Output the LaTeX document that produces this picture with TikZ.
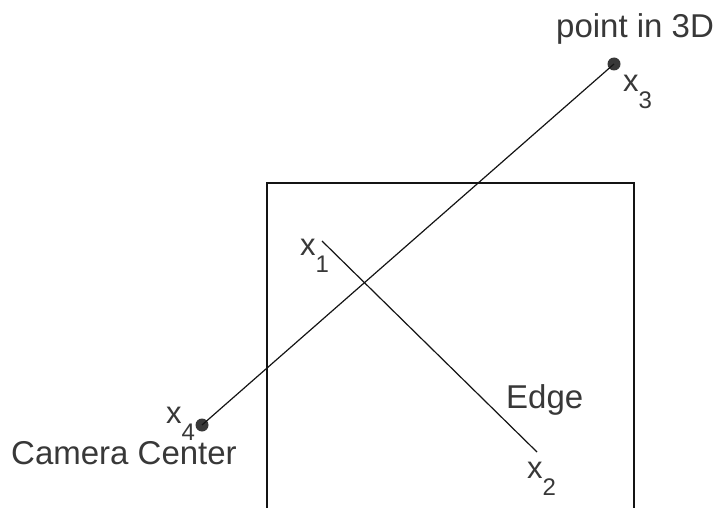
\documentclass[tikz,border=0pt]{standalone}
\usepackage{fontspec}
\setmainfont{Liberation Sans}
\definecolor{txt}{gray}{0.22}
\definecolor{ln}{gray}{0.08}
\newcommand{\subsc}[1]{\raisebox{-17pt}{\fontsize{24}{24}\selectfont #1}}
\begin{document}
\begin{tikzpicture}[x=1pt,y=-1pt,
  lbl/.style={inner sep=0pt,anchor=base west,text=txt,font=\fontsize{31}{31}\selectfont},
  big/.style={inner sep=0pt,anchor=base west,text=txt,font=\fontsize{33}{33}\selectfont},
  dot/.style={circle,fill=txt,draw=none,inner sep=0pt,minimum size=13pt},
  line/.style={draw=ln,line width=1.2pt}]
\useasboundingbox (0,0) rectangle (715,508);
% image plane
\coordinate (bl) at (267,508);
\coordinate (tl) at (267,183);
\coordinate (tr) at (634,183);
\coordinate (br) at (634,508);
\draw[line] (bl) -- (tl) -- (tr) -- (br);
% points
\node[dot] (x3) at (614,64) {};
\node[dot] (x4) at (202,425) {};
\coordinate (x1) at (322,241);
\coordinate (x2) at (537,452);
\draw[line] (x4.center) -- (x3.center);
\draw[line] (x1) -- (x2);
% labels
\node[big] (l3d) at (556,38) {point in 3D};
\node[lbl] (lx3) at (623,92) {x\subsc{3}};
\node[lbl] (lx1) at (300,255) {x\subsc{1}};
\node[big] (ledge) at (506,408) {Edge};
\node[lbl] (lx2) at (527,478) {x\subsc{2}};
\node[lbl] (lx4) at (166,423) {x\subsc{4}};
\node[big] (lcam) at (11,464) {Camera Center};
\end{tikzpicture}
\end{document}
